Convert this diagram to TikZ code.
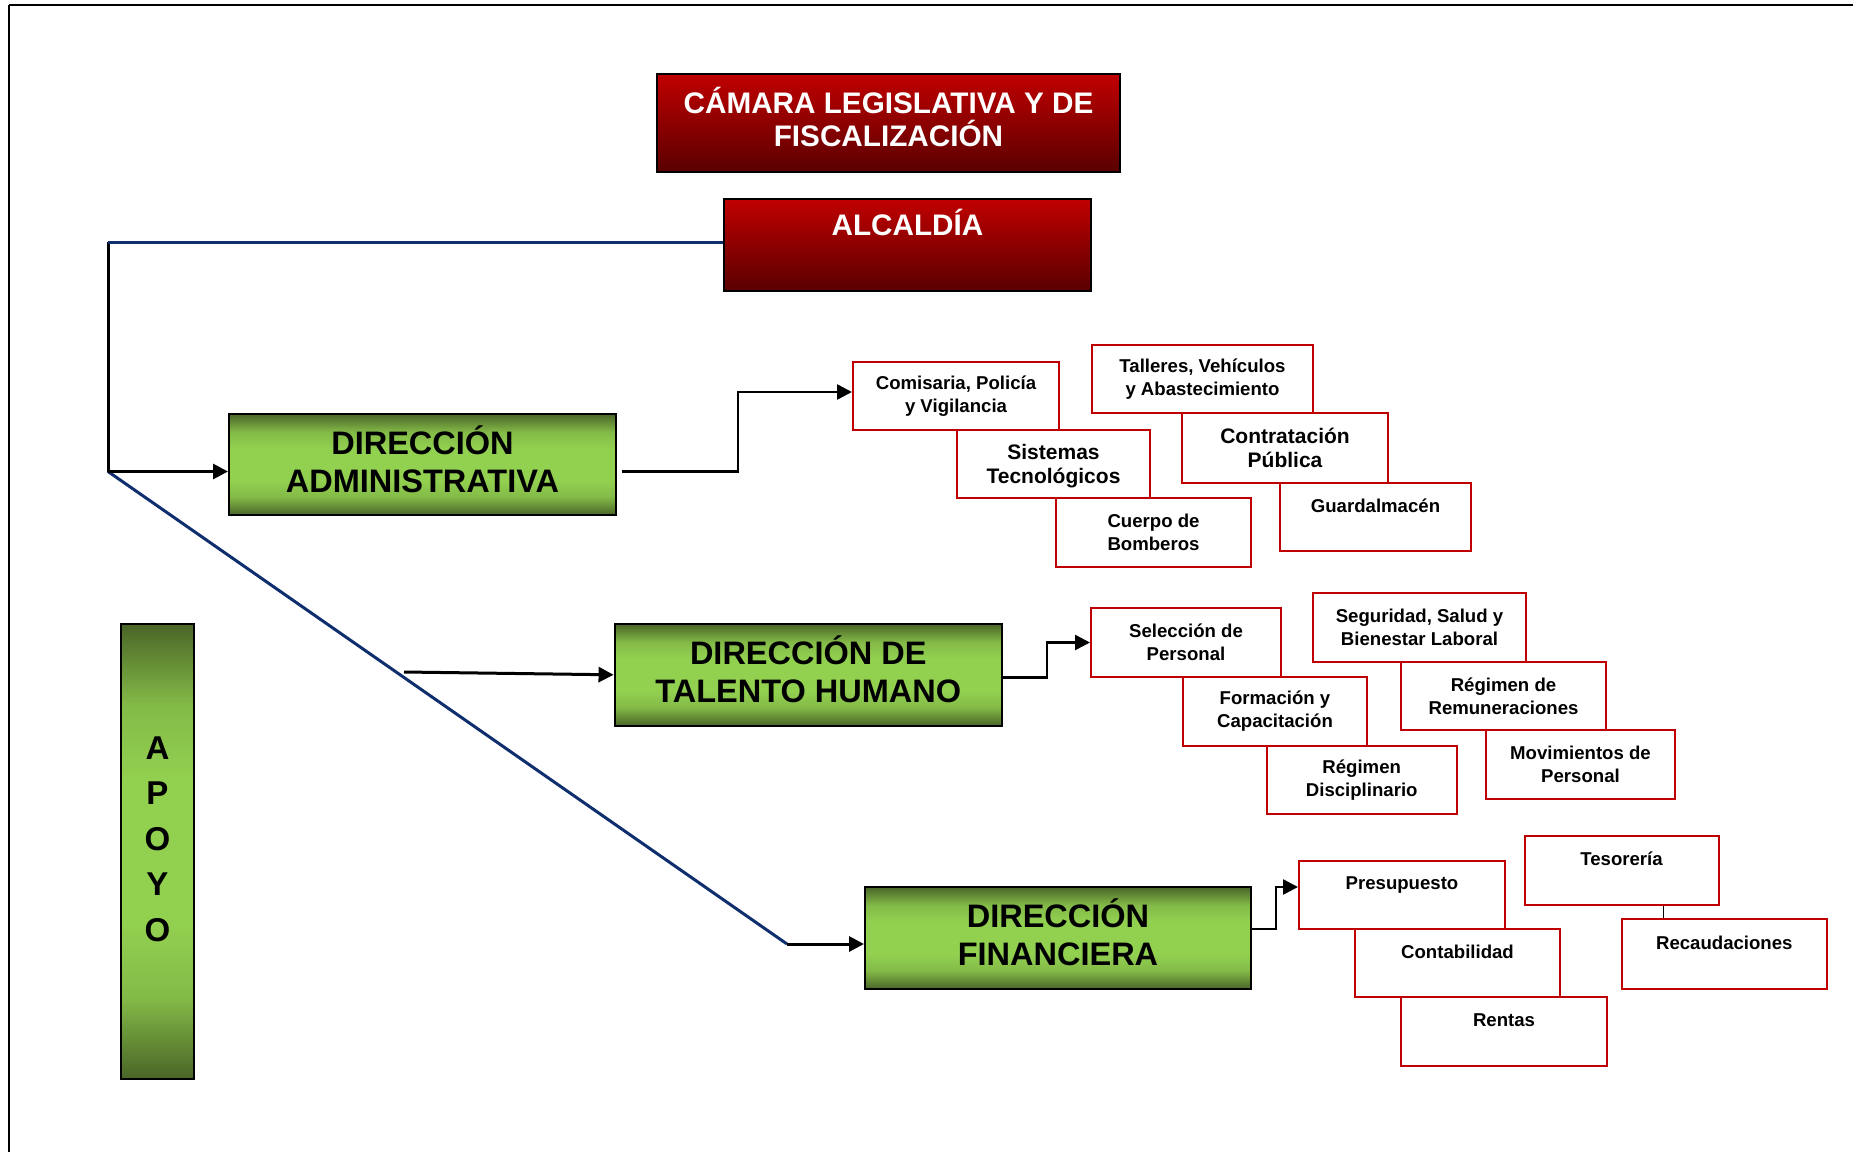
\documentclass[tikz,border=0pt]{standalone}
\usepackage{fontspec}
\setmainfont{Liberation Sans}
\usetikzlibrary{arrows.meta,calc}

\definecolor{redtop}{HTML}{C00000}
\definecolor{redbot}{HTML}{5A0000}
\definecolor{gdark}{HTML}{4A6527}
\definecolor{glight}{HTML}{92D050}
\definecolor{navy}{HTML}{0F2E6E}
\definecolor{unitred}{HTML}{C00000}

% green band: dark at the edges, light in the middle
\pgfdeclareverticalshading{greenbar}{100bp}{%
  color(0bp)=(gdark); color(25bp)=(gdark); color(34bp)=(glight!80!gdark);
  color(42bp)=(glight); color(58bp)=(glight); color(66bp)=(glight!80!gdark);
  color(75bp)=(gdark); color(100bp)=(gdark)}

\begin{document}
\begin{tikzpicture}[x=1pt,y=-1pt,
  sz/.style 2 args={minimum width=#1,minimum height=#2},
  head/.style={draw=black,line width=2.5pt,top color=redtop,bottom color=redbot,inner sep=0pt},
  headtext/.style={text=white,font=\bfseries\fontsize{29.7}{33}\selectfont,
    align=center,inner sep=0pt,yshift=6pt},
  direc/.style={draw=black,line width=2pt,shade,shading=greenbar,inner sep=0pt},
  directext/.style={font=\bfseries\fontsize{32.5}{38}\selectfont,
    align=center,inner sep=0pt,yshift=5pt},
  unit/.style={draw=unitred,line width=2pt,fill=white,
    font=\bfseries\fontsize{18.6}{23}\selectfont,align=center,inner sep=0pt},
  bigunit/.style={unit,font=\bfseries\fontsize{21}{24}\selectfont},
  bigtext/.style={font=\bfseries\fontsize{21}{24}\selectfont,align=center,inner sep=0pt},
  navyline/.style={draw=navy,line width=3pt},
  mainline/.style={draw=black,line width=3pt},
  mainarrow/.style={mainline,-{Triangle[length=15pt,width=15pt]}},
  subarrow/.style={draw=black,line width=2.5pt,-{Triangle[length=15pt,width=15pt]}},
]
\useasboundingbox (0,0) rectangle (1853,1152);

% page frame
\draw[line width=2.5pt] (9,5) -- (1853,5);
\draw[line width=1.5pt] (9,5) -- (9,1152);

% top authorities
\node[head,sz={463}{98},
  label={[headtext]center:{CÁMARA LEGISLATIVA Y DE\\FISCALIZACIÓN}}] (cam) at (888.5,123) {};
\node[head,sz={367}{92},
  label={[headtext,yshift=16.5pt]center:{ALCALDÍA}}] (alc) at (907.5,245) {};

% directorates
\node[direc,sz={387}{101},
  label={[directext]center:{DIRECCIÓN\\ADMINISTRATIVA}}] (adm) at (422.5,464.5) {};
\node[direc,sz={387.5}{101.5},
  label={[directext,yshift=1pt]center:{DIRECCIÓN DE\\TALENTO HUMANO}}] (th) at (808.3,674.8) {};
\node[direc,sz={386}{102},
  label={[directext,yshift=1pt]center:{DIRECCIÓN\\FINANCIERA}}] (fin) at (1058,938) {};
\node[direc,sz={73}{455}] (apo) at (157.5,851.5) {};
\node[font=\bfseries\fontsize{33}{45.6}\selectfont,align=center,inner sep=0pt] (apotxt)
  at (157.5,839) {A\\P\\O\\Y\\O};

% administrative units
\node[unit,sz={206}{68}] (com) at (956,396) {Comisaria, Policía\\y Vigilancia};
\node[unit,sz={193}{68},
  label={[bigtext,yshift=-2.5pt]center:{Sistemas\\Tecnológicos}}] (sis) at (1053.5,464) {};
\node[unit,sz={195}{69}] (cue) at (1153.5,532.5) {Cuerpo de\\Bomberos};
\node[unit,sz={221}{68}] (tll) at (1202.5,379) {Talleres, Vehículos\\y Abastecimiento};
\node[bigunit,sz={206}{70}] (cnt) at (1285,448) {Contratación\\Pública};
\node[unit,sz={191}{68}] (gua) at (1375.5,517) {Guardalmacén\\\mbox{}};

% human resources units
\node[unit,sz={190}{69}] (sel) at (1186,642.5) {Selección de\\Personal};
\node[unit,sz={184}{69}] (frm) at (1275,711.5) {Formación y\\Capacitación};
\node[unit,sz={190}{68}] (rdi) at (1361.7,780) {Régimen\\Disciplinario};
\node[unit,sz={213}{69}] (seg) at (1419.5,627.5) {Seguridad, Salud y\\Bienestar Laboral};
\node[unit,sz={205}{68}] (rre) at (1503.5,696) {Régimen de\\Remuneraciones};
\node[unit,sz={189}{69}] (mov) at (1580.5,764.5) {Movimientos de\\Personal};

% financial units
\node[unit,sz={206}{68}] (pre) at (1402,895) {Presupuesto\\\mbox{}};
\node[unit,sz={205}{68}] (cot) at (1457.5,963) {Contabilidad\\\mbox{}};
\node[unit,sz={206}{69}] (ren) at (1504,1031.5) {Rentas\\\mbox{}};
\node[unit,sz={194}{69}] (tes) at (1621.5,870.5) {Tesorería\\\mbox{}};
\node[unit,sz={205}{70}] (rec) at (1724.3,954) {Recaudaciones\\\mbox{}};

% trunk of the chart
\coordinate (corner) at (108,242);
\coordinate (hub) at (108,471.5);
\coordinate (diagend) at (787,944);
\coordinate (thsrc) at (404,672);
\draw[mainline] (corner) -- (hub);
\draw[navyline] (corner) -- (corner -| alc.west);
\draw[navyline] (hub) -- (diagend);
\draw[mainarrow] (hub) -- (hub -| adm.west);
\draw[mainarrow] (thsrc) -- (th.west);
\draw[mainarrow] (diagend) -- (diagend -| fin.west);

% directorate to first unit
\draw[subarrow] ([xshift=5pt,yshift=-7pt]adm.east) -- ++(116,0) |- ([yshift=4pt]com.west);
\draw[subarrow] ([yshift=-2.5pt]th.east) -- ++(44,0) |- (sel.west);
\draw[subarrow] ([yshift=9pt]fin.east) -- ++(24,0) |- ([yshift=8pt]pre.west);
\draw[line width=1.3pt] ([xshift=42pt]tes.south) -- ([xshift=42pt]tes.south |- rec.north);
\end{tikzpicture}
\end{document}
